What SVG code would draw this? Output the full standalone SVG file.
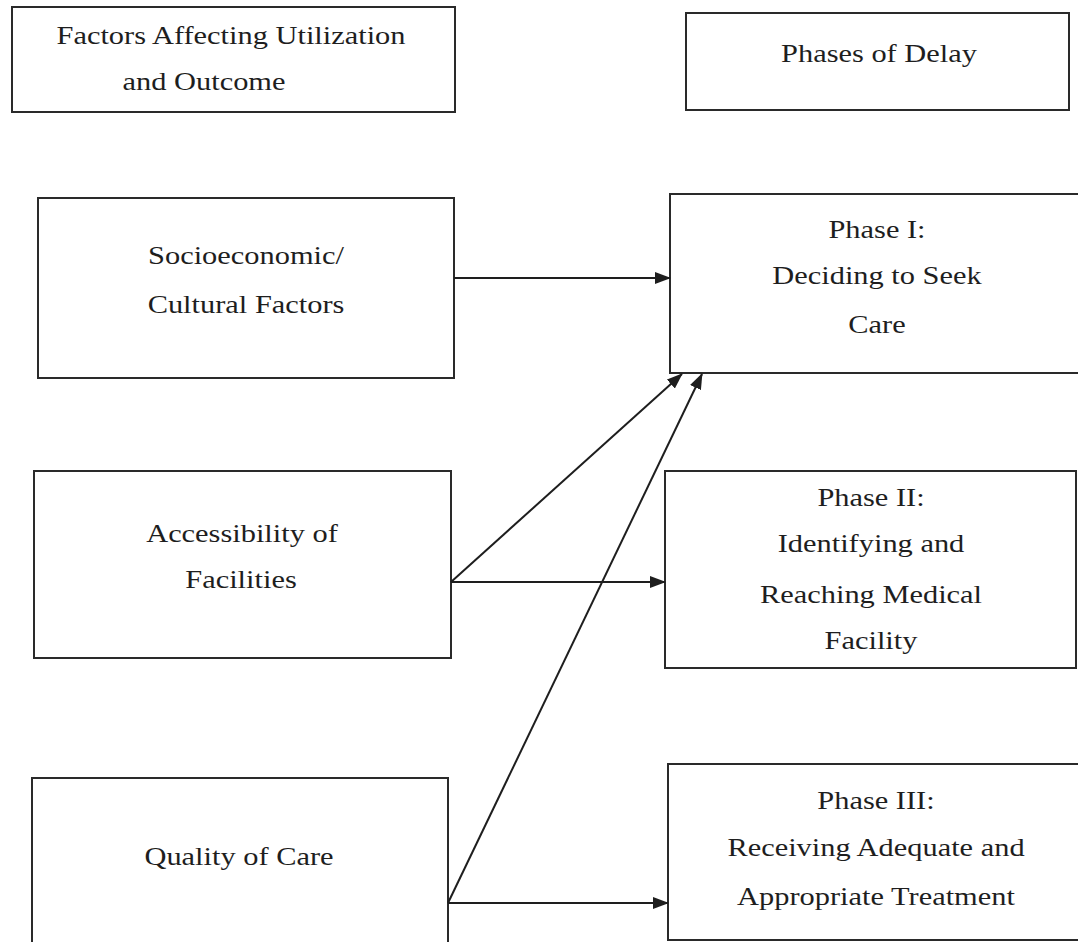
<svg xmlns="http://www.w3.org/2000/svg" width="1078" height="942" viewBox="0 0 1078 942">
  <style>
    .box { fill: #ffffff; stroke: #2a2a2a; stroke-width: 2; }
    .lbl { font-family: "Liberation Serif", "Times New Roman", serif; font-size: 26px; fill: #1e1e1e; text-anchor: middle; }
    .edge { stroke: #1e1e1e; stroke-width: 2; fill: none; marker-end: url(#arrow); }
  </style>
  <defs>
    <marker id="arrow" viewBox="0 0 16 12" refX="15" refY="6" markerWidth="16" markerHeight="12" markerUnits="userSpaceOnUse" orient="auto">
      <path d="M0,0 L16,6 L0,12 Z" fill="#1e1e1e"/>
    </marker>
  </defs>
  <rect width="1078" height="942" fill="#ffffff"/>

  <!-- column headers -->
  <g id="header-factors">
    <rect class="box" x="12" y="7" width="443" height="105"/>
    <text class="lbl" transform="translate(231,44) scale(1.17,1)">Factors Affecting Utilization</text>
    <text class="lbl" transform="translate(204,90) scale(1.17,1)">and Outcome</text>
  </g>
  <g id="header-phases">
    <rect class="box" x="686" y="13" width="383" height="97"/>
    <text class="lbl" transform="translate(879,62) scale(1.17,1)">Phases of Delay</text>
  </g>

  <!-- factor nodes -->
  <g id="socioeconomic">
    <rect class="box" x="38" y="198" width="416" height="180"/>
    <text class="lbl" transform="translate(246,264) scale(1.17,1)">Socioeconomic/</text>
    <text class="lbl" transform="translate(246,313) scale(1.17,1)">Cultural Factors</text>
  </g>
  <g id="accessibility">
    <rect class="box" x="34" y="471" width="417" height="187"/>
    <text class="lbl" transform="translate(242,542) scale(1.17,1)">Accessibility of</text>
    <text class="lbl" transform="translate(241,588) scale(1.17,1)">Facilities</text>
  </g>
  <g id="quality">
    <rect class="box" x="32" y="778" width="416" height="200"/>
    <text class="lbl" transform="translate(239,865) scale(1.17,1)">Quality of Care</text>
  </g>

  <!-- phase nodes -->
  <g id="phase1">
    <rect class="box" x="670" y="194" width="430" height="179"/>
    <text class="lbl" transform="translate(877,238) scale(1.17,1)">Phase I:</text>
    <text class="lbl" transform="translate(877,284) scale(1.17,1)">Deciding to Seek</text>
    <text class="lbl" transform="translate(877,333) scale(1.17,1)">Care</text>
  </g>
  <g id="phase2">
    <rect class="box" x="665" y="471" width="411" height="197"/>
    <text class="lbl" transform="translate(871,506) scale(1.17,1)">Phase II:</text>
    <text class="lbl" transform="translate(871,552) scale(1.17,1)">Identifying and</text>
    <text class="lbl" transform="translate(871,603) scale(1.17,1)">Reaching Medical</text>
    <text class="lbl" transform="translate(871,649) scale(1.17,1)">Facility</text>
  </g>
  <g id="phase3">
    <rect class="box" x="668" y="764" width="430" height="176"/>
    <text class="lbl" transform="translate(876,809) scale(1.17,1)">Phase III:</text>
    <text class="lbl" transform="translate(876,856) scale(1.17,1)">Receiving Adequate and</text>
    <text class="lbl" transform="translate(876,905) scale(1.17,1)">Appropriate Treatment</text>
  </g>

  <!-- connectors -->
  <g id="connectors">
    <line class="edge" x1="454" y1="278" x2="670" y2="278"/>
    <line class="edge" x1="451" y1="582" x2="682" y2="374"/>
    <line class="edge" x1="451" y1="582" x2="665" y2="582"/>
    <line class="edge" x1="448" y1="903" x2="702" y2="374"/>
    <line class="edge" x1="448" y1="903" x2="668" y2="903"/>
  </g>
</svg>
